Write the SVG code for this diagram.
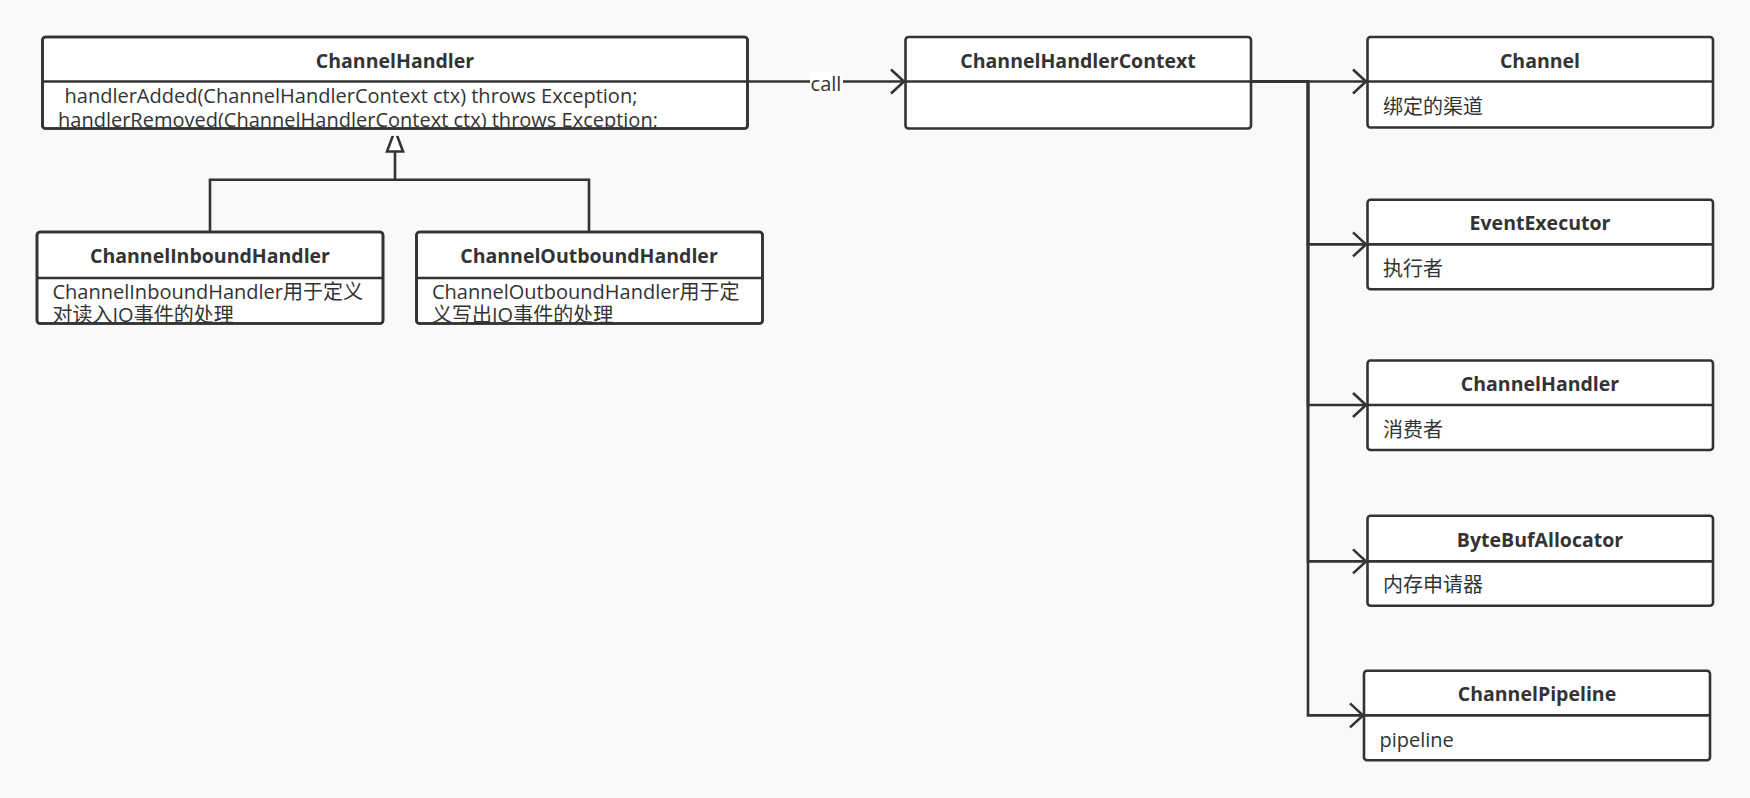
<svg xmlns="http://www.w3.org/2000/svg" width="1750" height="798" viewBox="0 0 1750 798">
<style>
.box{fill:#fff;stroke:#333;stroke-width:2.6}
.frame{fill:none;stroke:#333;stroke-width:2.6}
.div{stroke:#333;stroke-width:2.6}
.title{font-family:"Open Sans","Noto Sans","Noto Sans CJK SC",sans-serif;font-weight:bold;font-size:19.5px;fill:#333;text-anchor:middle}
.body{font-family:"Open Sans","Noto Sans","Noto Sans CJK SC",sans-serif;font-size:20px;fill:#333}
.edge{fill:none;stroke:#333;stroke-width:2.6}
</style>
<defs>
<marker id="open" markerUnits="userSpaceOnUse" markerWidth="20" markerHeight="28" refX="16" refY="14" orient="auto">
<path d="M3,2 L16,14 L3,26" fill="none" stroke="#333" stroke-width="2.6"/>
</marker>
</defs>
<rect width="1750" height="798" fill="#f9f9f9"/>

<g id="connectors">
<path class="edge" d="M748,81.5 H904" marker-end="url(#open)"/>
<rect x="810" y="72" width="33" height="23" fill="#fff"/>
<text x="826" y="90.5" class="body" text-anchor="middle">call</text>
<path class="edge" d="M395,131 V179.7"/>
<path d="M395,130 L387,151.5 L403,151.5 Z" fill="#fff" stroke="#333" stroke-width="2.6"/>
<path class="edge" d="M210,232 V179.7 H589 V232"/>
<path class="edge" d="M1251,81.5 H1366" marker-end="url(#open)"/>
<path class="edge" d="M1251,81.5 H1308 V244.4 H1366" marker-end="url(#open)"/>
<path class="edge" d="M1251,81.5 H1308 V405 H1366" marker-end="url(#open)"/>
<path class="edge" d="M1251,81.5 H1308 V561.4 H1366" marker-end="url(#open)"/>
<path class="edge" d="M1251,81.5 H1308 V715.4 H1363" marker-end="url(#open)"/>
</g>

<g id="node-channelhandler">
<rect class="box" x="42.5" y="37" width="705" height="91.5" rx="3"/>
<line class="div" x1="42.5" y1="81.5" x2="747.5" y2="81.5"/>
<text class="title" x="395" y="68">ChannelHandler</text>
<text class="body" x="64.5" y="103">handlerAdded(ChannelHandlerContext ctx) throws Exception;</text>
<text class="body" x="58" y="126.5">handlerRemoved(ChannelHandlerContext ctx) throws Exception;</text>
<rect x="44" y="129.9" width="702" height="6" fill="#f9f9f9"/>
<rect class="frame" x="42.5" y="37" width="705" height="91.5" rx="3"/>
</g>

<g id="node-inbound">
<rect class="box" x="37" y="232" width="346" height="91.5" rx="3"/>
<line class="div" x1="37" y1="278" x2="383" y2="278"/>
<text class="title" x="210" y="263">ChannelInboundHandler</text>
<text class="body" x="52.5" y="298.5">ChannelInboundHandler用于定义</text>
<text class="body" x="52.5" y="322">对读入IO事件的处理</text>
<rect x="38" y="324.9" width="344" height="6" fill="#f9f9f9"/>
<rect class="frame" x="37" y="232" width="346" height="91.5" rx="3"/>
</g>

<g id="node-outbound">
<rect class="box" x="416.5" y="232" width="346" height="91.5" rx="3"/>
<line class="div" x1="416.5" y1="278" x2="762.5" y2="278"/>
<text class="title" x="589" y="263">ChannelOutboundHandler</text>
<text class="body" x="432" y="298.5">ChannelOutboundHandler用于定</text>
<text class="body" x="432" y="322">义写出IO事件的处理</text>
<rect x="417.5" y="324.9" width="344" height="6" fill="#f9f9f9"/>
<rect class="frame" x="416.5" y="232" width="346" height="91.5" rx="3"/>
</g>

<g id="node-context">
<rect class="box" x="905.5" y="37" width="345.5" height="91.5" rx="3"/>
<line class="div" x1="905.5" y1="81.5" x2="1251" y2="81.5"/>
<text class="title" x="1078" y="68">ChannelHandlerContext</text>
</g>

<g id="node-channel">
<rect class="box" x="1367.5" y="37" width="345.5" height="90.5" rx="3"/>
<line class="div" x1="1367.5" y1="81.5" x2="1713" y2="81.5"/>
<text class="title" x="1540" y="68">Channel</text>
<text class="body" x="1383" y="114">绑定的渠道</text>
</g>

<g id="node-eventexecutor">
<rect class="box" x="1367.5" y="199.8" width="345.5" height="89.5" rx="3"/>
<line class="div" x1="1367.5" y1="244.4" x2="1713" y2="244.4"/>
<text class="title" x="1540" y="230">EventExecutor</text>
<text class="body" x="1383" y="276">执行者</text>
</g>

<g id="node-channelhandler2">
<rect class="box" x="1367.5" y="360.5" width="345.5" height="89.5" rx="3"/>
<line class="div" x1="1367.5" y1="405" x2="1713" y2="405"/>
<text class="title" x="1540" y="390.5">ChannelHandler</text>
<text class="body" x="1383" y="436.5">消费者</text>
</g>

<g id="node-bytebufallocator">
<rect class="box" x="1367.5" y="515.8" width="345.5" height="90" rx="3"/>
<line class="div" x1="1367.5" y1="561.4" x2="1713" y2="561.4"/>
<text class="title" x="1540" y="546.5">ByteBufAllocator</text>
<text class="body" x="1383" y="591.5">内存申请器</text>
</g>

<g id="node-channelpipeline">
<rect class="box" x="1364" y="670.8" width="346" height="89.5" rx="3"/>
<line class="div" x1="1364" y1="715.4" x2="1710" y2="715.4"/>
<text class="title" x="1537" y="700.5">ChannelPipeline</text>
<text class="body" x="1379.5" y="746.5">pipeline</text>
</g>
</svg>
